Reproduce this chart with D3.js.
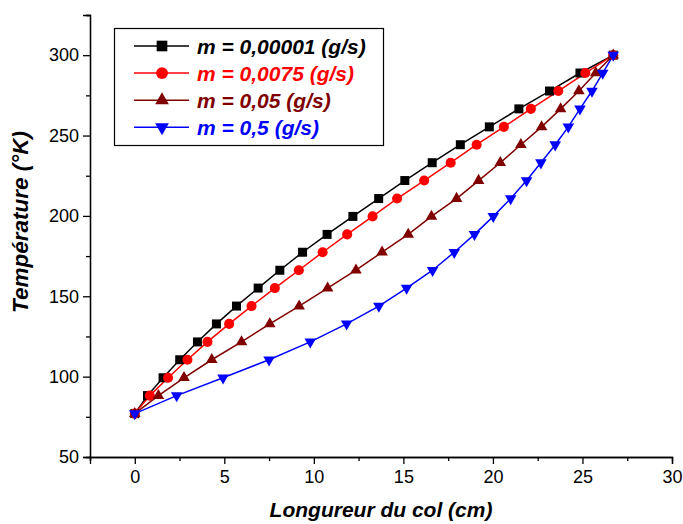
<!DOCTYPE html>
<html><head><meta charset="utf-8">
<script src="https://cdn.jsdelivr.net/npm/d3@7"></script>
<style>body{margin:0;background:#fff}svg{display:block}</style>
</head><body>
<svg id="c" width="683" height="524"></svg>
<script>
// Temperature (°K) at each measured point (same levels for every series)
const temperature = [77, 88.2, 99.3, 110.5, 121.6, 132.8, 143.9, 155.1, 166.2, 177.4, 188.5, 199.7, 210.8, 222, 233.1, 244.3, 255.4, 266.6, 277.7, 288.9, 300];
// Longueur du col (cm) for each series
const x_m00001 = [0, 0.71, 1.58, 2.51, 3.5, 4.56, 5.68, 6.89, 8.1, 9.37, 10.74, 12.18, 13.62, 15.08, 16.61, 18.18, 19.8, 21.45, 23.16, 24.86, 26.72];
const x_m0075  = [0, 0.84, 1.86, 2.94, 4.06, 5.27, 6.52, 7.82, 9.16, 10.49, 11.86, 13.28, 14.65, 16.16, 17.64, 19.09, 20.61, 22.12, 23.65, 25.16, 26.72];
const x_m005   = [0, 1.32, 2.75, 4.3, 5.96, 7.54, 9.18, 10.77, 12.35, 13.81, 15.27, 16.57, 17.97, 19.2, 20.41, 21.56, 22.72, 23.78, 24.8, 25.74, 26.72];
const x_m05    = [0, 2.34, 4.93, 7.5, 9.8, 11.83, 13.63, 15.18, 16.63, 17.84, 18.97, 20.02, 20.99, 21.88, 22.68, 23.48, 24.21, 24.86, 25.53, 26.13, 26.72];
const seriesNames = ["m = 0,00001 (g/s)", "m = 0,0075 (g/s)", "m = 0,05 (g/s)", "m = 0,5 (g/s)"];
const seriesColors = ["#000000", "#ff0000", "#800000", "#0000ff"];
const seriesSymbols = ["square", "circle", "triangle", "triangleDown"];
const xTicks = [0, 5, 10, 15, 20, 25, 30];
const yTicks = [50, 100, 150, 200, 250, 300];
const xTitle = "Longureur du col (cm)";
const yTitle = "Température (°K)";

const seriesX = [x_m00001, x_m0075, x_m005, x_m05];
const series = seriesNames.map((n, i) => ({
  name: n, color: seriesColors[i], symbol: seriesSymbols[i],
  pts: seriesX[i].map((x, j) => ({x, y: temperature[j]}))
}));

const svg = d3.select("#c");
const x = d3.scaleLinear().domain([-2.5, 30]).range([90, 672]);
const y = d3.scaleLinear().domain([50, 325]).range([457, 15]);
const FONT = "'Liberation Sans', Arial, sans-serif";

// axes
const xAxis = d3.axisBottom(x).tickValues(xTicks).tickSize(7).tickPadding(6).tickFormat(d3.format("d"));
const xMinor = d3.axisBottom(x).tickValues(d3.range(-2.5, 30.1, 2.5).filter(v => v % 5 !== 0)).tickSize(4).tickFormat("");
const yAxis = d3.axisLeft(y).tickValues(yTicks).tickSize(7).tickPadding(4).tickFormat(d3.format("d"));
const yMinor = d3.axisLeft(y).tickValues(d3.range(75, 326, 50)).tickSize(4).tickFormat("");

function styleAxis(g){
  g.select(".domain").attr("stroke", "#000").attr("stroke-width", 1.3);
  g.selectAll(".tick line").attr("stroke", "#000").attr("stroke-width", 1.3);
  g.selectAll(".tick text").attr("font-family", FONT).attr("font-size", 18).attr("fill", "#000");
}
svg.append("g").attr("transform", "translate(0,457)").call(xMinor).call(styleAxis);
svg.append("g").attr("transform", "translate(0,457)").call(xAxis).call(styleAxis);
svg.append("g").attr("transform", "translate(90,0)").call(yMinor).call(styleAxis);
svg.append("g").attr("transform", "translate(90,0)").call(yAxis).call(styleAxis);

// titles
svg.append("text").attr("x", 381).attr("y", 517).attr("text-anchor", "middle")
  .attr("font-family", FONT).attr("font-size", 21).attr("font-weight", "bold").attr("font-style", "italic")
  .text(xTitle);
svg.append("text").attr("transform", "translate(28,222) rotate(-90)").attr("text-anchor", "middle")
  .attr("font-family", FONT).attr("font-size", 22.5).attr("font-weight", "bold").attr("font-style", "italic")
  .text(yTitle);

// symbols
function symbolPath(s, size){
  if (s === "square") return d3.symbol(d3.symbolSquare, size)();
  if (s === "circle") return d3.symbol(d3.symbolCircle, size)();
  return d3.symbol(d3.symbolTriangle, size)();
}
function symTransform(s, px, py){
  return s === "triangleDown" ? `translate(${px},${py}) rotate(180)` : `translate(${px},${py})`;
}
const symSize = {square: 81, circle: 80, triangle: 58, triangleDown: 58};

const line = d3.line().x(d => x(d.x)).y(d => y(d.y));
const plot = svg.append("g");
series.forEach(s => {
  plot.append("path").datum(s.pts).attr("d", line).attr("fill", "none")
    .attr("stroke", s.color).attr("stroke-width", 1.5);
});
series.forEach(s => {
  plot.selectAll(null).data(s.pts).enter().append("path")
    .attr("d", symbolPath(s.symbol, symSize[s.symbol]))
    .attr("transform", d => symTransform(s.symbol, x(d.x), y(d.y)))
    .attr("fill", s.color);
});

// legend
const lg = svg.append("g");
lg.append("rect").attr("x", 114.5).attr("y", 28.5).attr("width", 269).attr("height", 117)
  .attr("fill", "#fff").attr("stroke", "#000").attr("stroke-width", 1.2);
series.forEach((s, i) => {
  const cy = 46 + i * 27.1;
  lg.append("line").attr("x1", 134).attr("x2", 189).attr("y1", cy).attr("y2", cy)
    .attr("stroke", s.color).attr("stroke-width", 1.5);
  lg.append("path").attr("d", symbolPath(s.symbol, symSize[s.symbol] * 1.4))
    .attr("transform", symTransform(s.symbol, 162, cy)).attr("fill", s.color);
  lg.append("text").attr("x", 197).attr("y", cy + 7.5)
    .attr("font-family", FONT).attr("font-size", 21).attr("font-weight", "bold").attr("font-style", "italic")
    .attr("fill", s.color).text(s.name);
});
</script>
</body></html>
